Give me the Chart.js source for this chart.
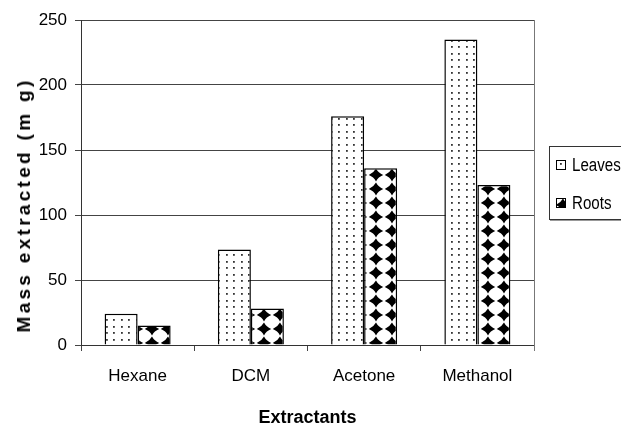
<!DOCTYPE html>
<html>
<head>
<meta charset="utf-8">
<script src="https://cdn.jsdelivr.net/npm/chart.js@4"></script>
<style>
html,body{margin:0;padding:0;background:#fff;}
#wrap{position:relative;width:621px;height:425px;overflow:hidden;}
#c{position:absolute;left:0;top:0;}
#ytitle{position:absolute;left:24px;top:205px;transform:translate(-50%,-50%) rotate(-90deg);white-space:nowrap;
 font-family:"Liberation Sans",Arial,sans-serif;font-weight:bold;font-size:19px;letter-spacing:3.3px;color:#000;}
#legend{position:absolute;left:549px;top:146px;width:100px;height:72px;border:1px solid #333;box-shadow:1px 1px 0 #999;background:#fff;
 font-family:"Liberation Sans",Arial,sans-serif;font-size:18px;color:#000;}
.item{position:absolute;left:6px;height:20px;line-height:20px;white-space:nowrap;}
.sw{display:inline-block;width:8px;height:8px;border:1px solid #000;vertical-align:middle;margin-right:6px;position:relative;top:-1px;}
.tx{display:inline-block;transform:scaleX(0.84);transform-origin:0 50%;}
</style>
</head>
<body>
<div id="wrap">
<canvas id="c" width="621" height="425"></canvas>
<div id="ytitle">Mass extracted (m g)</div>
<div id="legend">
 <div class="item" style="top:8px"><span class="sw" id="sw0"></span><span class="tx">Leaves</span></div>
 <div class="item" style="top:46px"><span class="sw" id="sw1"></span><span class="tx">Roots</span></div>
</div>
</div>
<script>
const categories = ["Hexane", "DCM", "Acetone", "Methanol"];
const leaves = [24, 73.5, 176, 235];
const roots = [15, 28, 136, 123];
const seriesNames = ["Leaves", "Roots"];
const yTicks = [0, 50, 100, 150, 200, 250];

function dotPattern() {
  const p = document.createElement('canvas');
  p.width = 15; p.height = 13;
  const g = p.getContext('2d');
  g.fillStyle = '#fff'; g.fillRect(0, 0, 15, 13);
  g.fillStyle = '#333';
  [[1,1],[8,1],[1,7],[8,7]].forEach(([x,y]) => g.fillRect(x, y, 1.8, 1.8));
  return p;
}
function diamondPattern() {
  const p = document.createElement('canvas');
  p.width = 16; p.height = 14;
  const g = p.getContext('2d');
  g.fillStyle = '#fff'; g.fillRect(0, 0, 16, 14);
  g.fillStyle = '#000';
  const cx = 8, cy = 7, hx = 7.2, hy = 6.4, k = 0.18;
  g.beginPath();
  g.moveTo(cx, cy - hy);
  g.quadraticCurveTo(cx + hx*(0.5-k), cy - hy*(0.5-k), cx + hx, cy);
  g.quadraticCurveTo(cx + hx*(0.5-k), cy + hy*(0.5-k), cx, cy + hy);
  g.quadraticCurveTo(cx - hx*(0.5-k), cy + hy*(0.5-k), cx - hx, cy);
  g.quadraticCurveTo(cx - hx*(0.5-k), cy - hy*(0.5-k), cx, cy - hy);
  g.fill();
  return p;
}
const cv = document.getElementById('c');
const ctx = cv.getContext('2d');
const dp = dotPattern(), kp = diamondPattern();
const pat1 = ctx.createPattern(dp, 'repeat');
const pat2 = ctx.createPattern(kp, 'repeat');
document.getElementById('sw0').style.background = 'url(' + dp.toDataURL() + ') 2px 1px';
document.getElementById('sw1').style.background = 'url(' + kp.toDataURL() + ') -2px -1px';

const FONT = '"Liberation Sans",Arial,sans-serif';

const borderPlugin = {
  id: 'rightBorder',
  afterDraw(chart) {
    const a = chart.chartArea, c = chart.ctx;
    c.save();
    c.strokeStyle = '#777'; c.lineWidth = 1;
    c.beginPath(); c.moveTo(Math.round(a.right) + 0.5, a.top); c.lineTo(Math.round(a.right) + 0.5, a.bottom + 6); c.stroke();
    c.restore();
  }
};

new Chart(ctx, {
  type: 'bar',
  data: {
    labels: categories,
    datasets: [
      { label: seriesNames[0], data: leaves, backgroundColor: pat1, borderColor: '#000', borderWidth: 1.5 },
      { label: seriesNames[1], data: roots, backgroundColor: pat2, borderColor: '#000', borderWidth: 1.5 }
    ]
  },
  options: {
    responsive: false,
    animation: false,
    events: [],
    layout: { padding: { left: 0, right: 87, top: 20, bottom: 0 } },
    datasets: { bar: { categoryPercentage: 0.583, barPercentage: 1.0 } },
    plugins: { legend: { display: false }, tooltip: { enabled: false } },
    scales: {
      x: {
        grid: { display: true, drawOnChartArea: false, offset: true, color: '#444', tickLength: 6 },
        border: { color: '#333', width: 1 },
        ticks: { color: '#000', font: { family: FONT, size: 17 }, padding: 15, maxRotation: 0 },
        title: { display: true, text: 'Extractants', color: '#000', font: { family: FONT, size: 18, weight: 'bold', lineHeight: 0.8 }, padding: 0 },
        afterFit(s) { s.height = 80; }
      },
      y: {
        min: 0, max: 250,
        afterBuildTicks(s) { s.ticks = yTicks.map(v => ({ value: v })); },
        grid: { color: '#444', tickLength: 6 },
        border: { color: '#333', width: 1 },
        ticks: { color: '#000', font: { family: FONT, size: 17 }, padding: 8 },
        afterFit(s) { s.width = 81; }
      }
    }
  },
  plugins: [borderPlugin]
});
</script>
</body>
</html>
